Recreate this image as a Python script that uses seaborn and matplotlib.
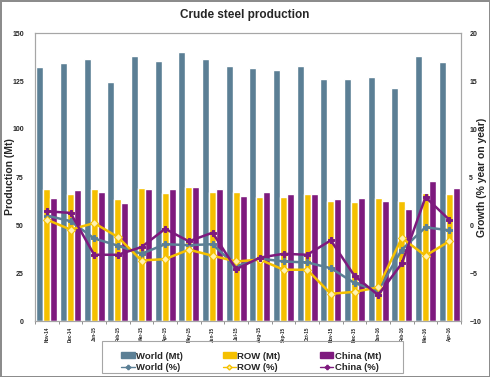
import matplotlib
matplotlib.use('Agg')
import matplotlib.pyplot as plt
import seaborn as sns
import pandas as pd
import numpy as np
from matplotlib.patches import Patch, Rectangle
from matplotlib.lines import Line2D

# Data
months = ['Nov-14', 'Dec-14', 'Jan-15', 'Feb-15', 'Mar-15', 'Apr-15', 'May-15', 'Jun-15', 'Jul-15',
          'Aug-15', 'Sep-15', 'Oct-15', 'Nov-15', 'Dec-15', 'Jan-16', 'Feb-16', 'Mar-16', 'Apr-16']
world_mt = [132.1, 134.3, 136.4, 124.6, 138.2, 135.5, 140.1, 136.3, 132.9,
            131.9, 130.8, 132.6, 126.1, 126.1, 127.0, 121.3, 137.8, 134.9]
row_mt = [68.5, 66.4, 69.0, 63.8, 69.5, 66.9, 70.0, 67.4, 67.0,
          64.8, 64.8, 66.4, 62.7, 62.2, 64.3, 62.7, 66.9, 65.9]
china_mt = [64.3, 68.0, 67.4, 61.2, 69.0, 69.0, 70.0, 69.0, 65.3,
            67.0, 66.4, 66.4, 63.3, 64.3, 62.7, 58.5, 72.7, 69.5]
world_pct = [0.98, 0.4, -1.4, -2.15, -3.0, -2.0, -2.1, -2.0, -4.3,
             -3.5, -3.8, -3.9, -4.5, -6.05, -6.85, -2.57, -0.24, -0.55]
row_pct = [0.56, -0.48, 0.2, -1.25, -3.7, -3.55, -2.57, -3.2, -3.8,
           -3.6, -4.66, -4.66, -7.17, -6.96, -6.5, -1.35, -3.2, -1.7]
china_pct = [1.43, 1.26, -3.1, -3.1, -2.3, -0.4, -1.7, -0.8, -4.6,
             -3.4, -3.0, -3.1, -1.6, -5.3, -7.3, -4.0, 2.9, 0.56]

c_world = '#5B7F95'
c_row = '#F5C000'
c_china = '#7E1A7E'
grey = '#A6A6A6'
txt = '#262626'

bars = pd.DataFrame({
    'month': months * 3,
    'value': world_mt + row_mt + china_mt,
    'series': ['World (Mt)'] * 18 + ['ROW (Mt)'] * 18 + ['China (Mt)'] * 18,
})

sns.set_style('white')
plt.rcParams['font.family'] = ['Liberation Sans', 'DejaVu Sans']

fig = plt.figure(figsize=(4.9, 3.77), dpi=100)
fig.patch.set_edgecolor('#8C8C8C')
fig.patch.set_linewidth(2)
ax = fig.add_axes([35 / 490, 56 / 377, 426 / 490, 288 / 377])

sns.barplot(data=bars, x='month', y='value', hue='series', ax=ax,
            palette=[c_world, c_row, c_china], width=0.9, gap=0.02,
            saturation=1, legend=False)
ax.set_ylim(0, 150)
ax.set_xlim(-0.5, 17.5)
ax.set_yticks(range(0, 151, 25))
ax.set_xlabel('')
ax.set_ylabel('Production (Mt)', fontsize=7.5, fontweight='bold', color=txt)
ax.yaxis.set_label_coords(-0.048, 0.5)
ax.tick_params(axis='y', labelsize=5, length=0, pad=8, labelcolor=txt)
ax.tick_params(axis='x', which='major', labelsize=3.3, rotation=90, length=0, pad=4, labelcolor=txt)
ax.set_xticks(np.arange(-0.5, 18, 1), minor=True)
ax.tick_params(axis='x', which='minor', length=2.5, color='#7F7F7F', bottom=True)
for t in ax.get_yticklabels() + ax.get_xticklabels():
    t.set_fontweight('bold')
for s in ax.spines.values():
    s.set_color(grey)
    s.set_linewidth(0.8)

ax2 = ax.twinx()
x = np.arange(len(months))
sns.lineplot(x=x, y=world_pct, ax=ax2, color=c_world, lw=1.8, marker='P', ms=4,
             mec=c_world, mfc=c_world)
sns.lineplot(x=x, y=row_pct, ax=ax2, color=c_row, lw=1.8, marker='D', ms=4,
             mec=c_row, mfc='#FFF2B0')
sns.lineplot(x=x, y=china_pct, ax=ax2, color=c_china, lw=1.8, marker='P', ms=4,
             mec=c_china, mfc=c_china)
ax2.set_ylim(-10, 20)
ax2.set_xlim(-0.5, 17.5)
ax2.set_yticks(range(-10, 21, 5))
ax2.set_ylabel('Growth (% year on year)', fontsize=7.5, fontweight='bold', color=txt)
ax2.yaxis.set_label_coords(1.038, 0.5)
ax2.tick_params(axis='y', labelsize=5, length=0, pad=6, labelcolor=txt)
for t in ax2.get_yticklabels():
    t.set_fontweight('bold')
for s in ax2.spines.values():
    s.set_color(grey)
    s.set_linewidth(0.8)

fig.text(0.5, 0.96, 'Crude steel production', ha='center', va='center',
         fontsize=8.5, fontweight='bold', color=txt)

handles = [
    Patch(color=c_world, label='World (Mt)'),
    Line2D([], [], color=c_world, lw=1.0, marker='P', ms=3, label='World (%)'),
    Patch(color=c_row, label='ROW (Mt)'),
    Line2D([], [], color=c_row, lw=1.0, marker='D', ms=2.5, mfc='#FFF2B0', label='ROW (%)'),
    Patch(color=c_china, label='China (Mt)'),
    Line2D([], [], color=c_china, lw=1.0, marker='P', ms=3, label='China (%)'),
]
leg = fig.legend(handles=handles, ncol=3, loc='center', bbox_to_anchor=(0.513, 0.04),
                 frameon=False, handlelength=1.4, handleheight=0.6, handletextpad=0.15,
                 columnspacing=4.2, labelspacing=0.3,
                 prop={'weight': 'bold', 'size': 6.8})
for t in leg.get_texts():
    t.set_color(txt)
fig.patches.append(Rectangle((102 / 490, 4 / 377), 301 / 490, 32 / 377,
                             transform=fig.transFigure, fill=False,
                             edgecolor=grey, lw=0.8))

fig.savefig('out.png', dpi=100, edgecolor=fig.get_edgecolor())
